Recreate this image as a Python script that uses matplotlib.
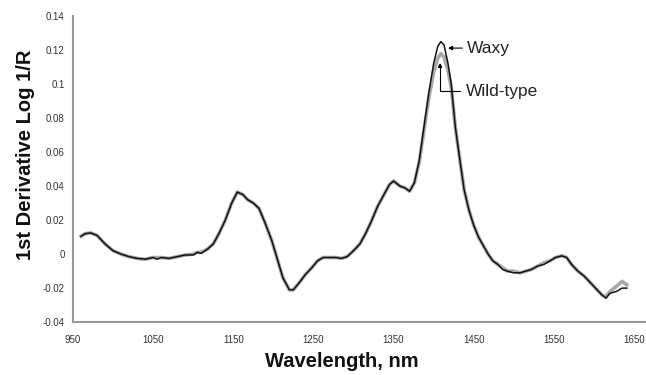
import matplotlib.pyplot as plt

plt.rcParams['font.family'] = ['Liberation Sans', 'DejaVu Sans']

wavelength = [960, 965, 972, 980, 990, 1000, 1010, 1020, 1030, 1040, 1050, 1055, 1060, 1070,
              1080, 1090, 1100, 1105, 1110, 1118, 1125, 1132, 1140, 1148, 1155, 1162, 1168,
              1175, 1182, 1190, 1198, 1205, 1212, 1220, 1225, 1232, 1240, 1248, 1255, 1262,
              1270, 1278, 1285, 1292, 1300, 1308, 1315, 1322, 1330, 1338, 1345, 1350, 1358,
              1364, 1370, 1376, 1382, 1388, 1394, 1400, 1405, 1409, 1413, 1418, 1422, 1427,
              1432, 1438, 1444, 1450, 1456, 1462, 1468, 1474, 1480, 1486, 1492, 1500, 1508,
              1515, 1522, 1530, 1538, 1545, 1552, 1560, 1566, 1572, 1580, 1588, 1596, 1604,
              1610, 1615, 1620, 1628, 1635, 1641]

waxy = [0.0105, 0.012, 0.0125, 0.011, 0.006, 0.002, 0.000, -0.0015, -0.0025, -0.003, -0.002,
        -0.003, -0.002, -0.0025, -0.0015, -0.0005, -0.0005, 0.001, 0.0005, 0.003, 0.006, 0.012,
        0.020, 0.030, 0.0365, 0.035, 0.032, 0.030, 0.027, 0.018, 0.008, -0.003, -0.014, -0.021,
        -0.021, -0.017, -0.012, -0.008, -0.004, -0.002, -0.002, -0.002, -0.0025, -0.0015, 0.002,
        0.006, 0.012, 0.019, 0.028, 0.035, 0.041, 0.043, 0.040, 0.039, 0.037, 0.042, 0.055,
        0.075, 0.095, 0.112, 0.122, 0.125, 0.123, 0.112, 0.100, 0.075, 0.058, 0.038, 0.026,
        0.017, 0.010, 0.005, 0.000, -0.004, -0.006, -0.009, -0.010, -0.011, -0.011, -0.010,
        -0.009, -0.007, -0.006, -0.004, -0.002, -0.001, -0.002, -0.006, -0.010, -0.013, -0.017,
        -0.021, -0.024, -0.026, -0.023, -0.022, -0.020, -0.020]

wild_type = [0.0105, 0.012, 0.0125, 0.011, 0.006, 0.002, 0.000, -0.0015, -0.0025, -0.003, -0.002,
             -0.002, -0.002, -0.0025, -0.0015, -0.0005, 0.000, 0.001, 0.001, 0.003, 0.006, 0.012,
             0.020, 0.030, 0.0365, 0.035, 0.032, 0.030, 0.027, 0.018, 0.008, -0.003, -0.014, -0.021,
             -0.021, -0.017, -0.012, -0.008, -0.004, -0.002, -0.002, -0.002, -0.0025, -0.0015, 0.002,
             0.006, 0.012, 0.019, 0.028, 0.035, 0.041, 0.043, 0.040, 0.039, 0.037, 0.042, 0.054,
             0.073, 0.092, 0.107, 0.115, 0.118, 0.116, 0.108, 0.098, 0.075, 0.058, 0.038, 0.026,
             0.017, 0.010, 0.005, 0.000, -0.004, -0.006, -0.008, -0.010, -0.010, -0.011, -0.010,
             -0.009, -0.007, -0.005, -0.004, -0.002, -0.001, -0.002, -0.006, -0.010, -0.013, -0.017,
             -0.021, -0.024, -0.025, -0.022, -0.019, -0.016, -0.018]

x_ticks = [950, 1050, 1150, 1250, 1350, 1450, 1550, 1650]
y_ticks = [-0.04, -0.02, 0, 0.02, 0.04, 0.06, 0.08, 0.1, 0.12, 0.14]
y_labels = ['-0.04', '-0.02', '0', '0.02', '0.04', '0.06', '0.08', '0.1', '0.12', '0.14']

fig = plt.figure(figsize=(6.46, 3.75), dpi=100)
ax = fig.add_axes([0.113, 0.141, 0.887, 0.816])

ax.plot(wavelength, wild_type, color='#a8a8a8', lw=2.6, zorder=2)
ax.plot(wavelength, waxy, color='#111111', lw=1.1, zorder=3)

ax.set_xlim(950, 1665)
ax.set_ylim(-0.04, 0.14)
ax.set_xticks(x_ticks)
ax.set_xticklabels([str(t) for t in x_ticks])
ax.set_yticks(y_ticks)
ax.set_yticklabels(y_labels)
ax.tick_params(length=0, labelsize=7, colors='#333333', pad=6)
ax.tick_params(axis='x', pad=9)

for side in ['top', 'right']:
    ax.spines[side].set_visible(False)
for side in ['left', 'bottom']:
    ax.spines[side].set_color('#999999')
    ax.spines[side].set_linewidth(1.5)

ax.set_xlabel('Wavelength, nm', fontsize=14.5, fontweight='bold', color='#111111')
ax.xaxis.set_label_coords(0.469, -0.098)
ax.set_ylabel('1st Derivative Log 1/R', fontsize=14.5, fontweight='bold', color='#111111')
ax.yaxis.set_label_coords(-0.066, 0.546)

ax.annotate('Waxy', xy=(1418, 0.1212), xytext=(1441, 0.1212), fontsize=12.5, color='#222222',
            va='center', ha='left',
            arrowprops=dict(arrowstyle='-|>', color='black', lw=0.8, mutation_scale=6,
                            shrinkA=1, shrinkB=0))
ax.annotate('Wild-type', xy=(1408, 0.1125), xytext=(1440, 0.0959), fontsize=12.5, color='#222222',
            va='center', ha='left',
            arrowprops=dict(arrowstyle='-|>', color='black', lw=0.8, mutation_scale=6,
                            shrinkA=2, shrinkB=0,
                            connectionstyle='angle,angleA=180,angleB=90,rad=0'))

fig.savefig('out.png', dpi=100)
